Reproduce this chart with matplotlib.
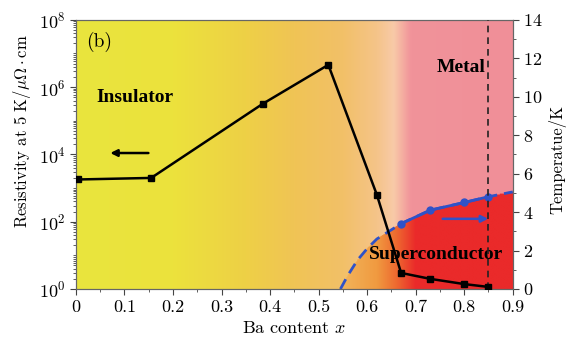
"""Ba 含量相图：电阻率与超导转变温度"""
import matplotlib.pyplot as plt
import matplotlib
import numpy as np
from matplotlib.colors import to_rgb

matplotlib.rcParams['font.family'] = 'serif'
matplotlib.rcParams['font.serif'] = ['cmr10', 'DejaVu Serif']
matplotlib.rcParams['mathtext.fontset'] = 'cm'
matplotlib.rcParams['axes.formatter.use_mathtext'] = True
matplotlib.rcParams['axes.unicode_minus'] = False

# 5 K 电阻率
x_rho = [0.005, 0.155, 0.385, 0.52, 0.62, 0.67, 0.73, 0.80, 0.85]
rho = [1.8e3, 2.0e3, 3.2e5, 4.6e6, 6.3e2, 3.0, 2.0, 1.4, 1.15]

# 超导转变温度
x_tc = [0.67, 0.73, 0.80, 0.85]
tc = [3.4, 4.1, 4.5, 4.8]

# Tc 虚线（相界）
x_bound = [0.545, 0.56, 0.58, 0.60, 0.62, 0.645, 0.67, 0.73, 0.80, 0.85, 0.90]
t_bound = [0.0, 0.7, 1.5, 2.1, 2.6, 3.0, 3.4, 4.1, 4.5, 4.8, 5.05]

# 背景渐变色
bg_x = [0.0, 0.2, 0.35, 0.45, 0.55, 0.62, 0.655, 0.69, 0.9]
bg_c = ['#e9e53e', '#ece23c', '#eed046', '#f0c455', '#f2c068', '#f5c489',
        '#f8caa8', '#f1939a', '#f08f98']
sc_x = [0.0, 0.55, 0.62, 0.66, 0.70, 0.9]
sc_c = ['#f2c068', '#f2b45a', '#f09a40', '#ee6a30', '#ea2a2a', '#ea2a2a']

fig = plt.figure(figsize=(5.71, 3.42), dpi=100)
ax = fig.add_axes([0.133, 0.155, 0.765, 0.787])
ax2 = ax.twinx()

# 背景图像（在温度坐标下绘制）
nx, ny = 600, 300
gx = np.linspace(0, 0.9, nx)
gy = np.linspace(0, 14, ny)
bg_rgb = np.array([to_rgb(c) for c in bg_c])
sc_rgb = np.array([to_rgb(c) for c in sc_c])
bg = np.stack([np.interp(gx, bg_x, bg_rgb[:, i]) for i in range(3)], axis=-1)
sc = np.stack([np.interp(gx, sc_x, sc_rgb[:, i]) for i in range(3)], axis=-1)
tb = np.interp(gx, x_bound, t_bound, left=-1)
inside = (gy[:, None] < tb[None, :])
img = np.where(inside[..., None], sc[None, :, :], bg[None, :, :])
ax2.imshow(img, extent=(0, 0.9, 0, 14), origin='lower', aspect='auto',
           interpolation='bilinear', zorder=0)

ax.set_zorder(ax2.get_zorder() + 1)
ax.patch.set_visible(False)

ax.plot(x_rho, rho, color='black', linewidth=1.8, marker='s', markersize=4,
        zorder=5)
ax.set_yscale('log')
ax.set_xlim(0, 0.9)
ax.set_ylim(1, 1e8)
ax.set_yticks([1e0, 1e2, 1e4, 1e6, 1e8])
ax.yaxis.set_minor_locator(matplotlib.ticker.LogLocator(base=10, subs=np.arange(1, 10), numticks=20))
ax.yaxis.set_minor_formatter(matplotlib.ticker.NullFormatter())
ax.set_xticks(np.arange(0, 0.91, 0.1))
ax.set_xticklabels(['0', '0.1', '0.2', '0.3', '0.4', '0.5', '0.6', '0.7', '0.8', '0.9'])
ax.xaxis.set_minor_locator(matplotlib.ticker.MultipleLocator(0.05))

ax2.plot(x_bound, t_bound, color='#2f52c8', linewidth=2, linestyle=(0, (4, 2.5)),
         zorder=3)
ax2.plot(x_tc, tc, color='#2f52c8', linewidth=2, marker='o', markersize=5,
         zorder=4)
ax2.set_ylim(0, 14)
ax2.set_yticks(range(0, 15, 2))
ax2.yaxis.set_minor_locator(matplotlib.ticker.MultipleLocator(1))

for a in (ax, ax2):
    a.tick_params(which='both', direction='out', labelsize=13, color='#444444')
    a.tick_params(which='major', length=4)
    a.tick_params(which='minor', length=2)
    for s in a.spines.values():
        s.set_color('#666666')

ax.axvline(0.85, color='#222222', linewidth=1.2, linestyle=(0, (4, 3)), zorder=4)

ax.annotate('', xy=(0.065, 1.1e4), xytext=(0.155, 1.1e4),
            arrowprops=dict(arrowstyle='-|>', color='black', lw=1.8,
                            mutation_scale=10))
ax2.annotate('', xy=(0.855, 3.65), xytext=(0.75, 3.65),
             arrowprops=dict(arrowstyle='-|>', color='#2f52c8', lw=1.8,
                             mutation_scale=10))

ax.text(0.02, 2.2e7, '(b)', fontsize=14, ha='left', va='center')
ax.text(0.122, 5e5, 'Insulator', fontsize=14, fontweight='bold',
        family='Liberation Serif', ha='center', va='center')
ax2.text(0.793, 11.5, 'Metal', fontsize=14, fontweight='bold',
         family='Liberation Serif', ha='center', va='center')
ax2.text(0.743, 1.8, 'Superconductor', fontsize=14, fontweight='bold',
         family='Liberation Serif', ha='center', va='center', zorder=6)

ax.set_xlabel(r'Ba content $x$', fontsize=13)
ax.set_ylabel(r'Resistivity at 5 K/$\mathrm{\mu\Omega}\cdot$cm', fontsize=12)
ax2.set_ylabel('Temperatue/K', fontsize=12)
ax.yaxis.set_label_coords(-0.098, 0.587)
ax2.yaxis.set_label_coords(1.082, 0.48)

plt.savefig('out.png', dpi=100)
plt.close()
